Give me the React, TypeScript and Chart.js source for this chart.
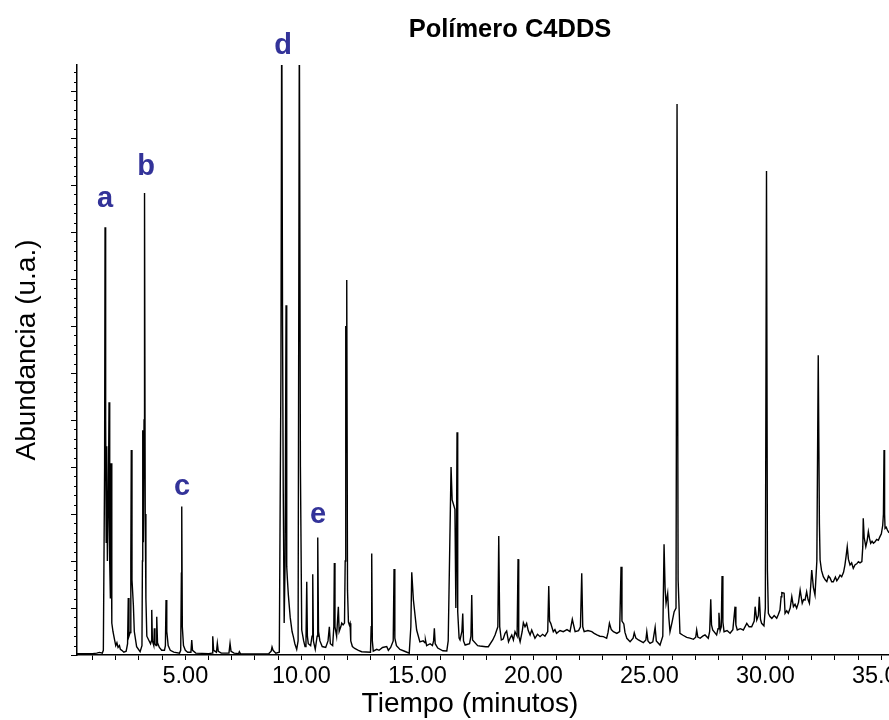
import React, { useEffect, useRef } from "react";
import { Chart, registerables } from "chart.js";

Chart.register(...registerables);

// ---- Data ----
const chartTitle = "Polímero C4DDS";
const xAxisTitle = "Tiempo (minutos)";
const yAxisTitle = "Abundancia (u.a.)";

// [retention time (min), abundance (a.u.)]
const signal: [number, number][] = [
  [0.33,0.15],[1.0,0.15],[1.18,0.2],[1.3,0.28],[1.42,0.2],[1.466,0.5],[1.52,20],[1.539,45.5],[1.565,25],[1.59,12],
  [1.612,22.2],[1.64,10],[1.68,16],[1.711,26.9],[1.74,9.8],[1.77,6],[1.797,20.4],[1.83,3.4],[1.88,2.5],[1.95,1.6],
  [2.0,1.0],[2.05,1.3],[2.1,0.8],[2.16,1.0],[2.2,0.6],[2.26,0.5],[2.35,0.3],[2.45,0.4],[2.51,1.2],[2.54,6.06],
  [2.57,2.0],[2.62,2.4],[2.65,10],[2.67,21.8],[2.7,8],[2.76,5.3],[2.8,2.5],[2.9,0.88],[3.05,0.35],[3.13,1.0],
  [3.15,10],[3.164,23.9],[3.19,12],[3.22,25],[3.241,49.15],[3.27,15],[3.3,6],[3.34,2.0],[3.42,1.6],[3.5,1.2],
  [3.535,1.5],[3.552,4.8],[3.58,1.5],[3.64,1.0],[3.664,2.84],[3.69,1.2],[3.74,1.0],[3.767,4.07],[3.8,1.3],[3.88,0.8],
  [3.98,0.5],[4.1,0.5],[4.14,1.0],[4.168,5.85],[4.2,2.5],[4.26,1.0],[4.35,0.5],[4.5,0.3],[4.75,0.2],[4.8,0.5],
  [4.83,8.7],[4.845,15.8],[4.87,3],[4.92,1.0],[5.0,0.5],[5.1,0.3],[5.24,0.3],[5.276,1.6],[5.31,0.5],[5.45,0.2],
  [6.0,0.15],[6.15,0.2],[6.181,2.0],[6.22,0.5],[6.34,0.3],[6.379,1.24],[6.42,0.4],[6.55,0.2],[6.88,0.2],[6.927,1.24],
  [6.97,0.4],[7.1,0.2],[7.3,0.15],[7.328,0.35],[7.37,0.15],[8.0,0.1],[8.6,0.15],[8.7,0.4],[8.737,0.85],[8.78,0.5],
  [8.9,0.2],[9.05,0.3],[9.12,30],[9.155,70],[9.19,35],[9.22,17.5],[9.26,3.4],[9.3,10],[9.341,37.2],[9.37,9.4],
  [9.4,8],[9.44,6.4],[9.52,4],[9.6,2.5],[9.655,1.95],[9.72,1.2],[9.8,0.6],[9.86,1.5],[9.914,68],[9.96,20],
  [10.017,2.66],[10.1,1.5],[10.159,0.9],[10.2,1.5],[10.233,7.8],[10.26,2],[10.3,1.2],[10.4,1.0],[10.46,2],[10.491,8.6],
  [10.52,1.5],[10.6,0.6],[10.68,2],[10.707,12.5],[10.74,2.5],[10.8,1.5],[10.9,0.9],[11.05,0.8],[11.15,1.5],[11.207,3.0],
  [11.25,1.2],[11.35,1.0],[11.4,3],[11.422,9.8],[11.45,3],[11.52,2],[11.595,5.14],[11.63,2.5],[11.7,3.0],[11.741,3.4],
  [11.8,3.2],[11.86,3.4],[11.89,10],[11.914,35],[11.935,25],[11.957,39.9],[11.99,6.9],[12.03,3.5],[12.069,3.19],[12.099,3.37],
  [12.13,1.5],[12.2,0.9],[12.3,0.7],[12.46,0.5],[12.6,0.35],[12.98,0.3],[13.01,3],[13.034,10.8],[13.06,1.5],[13.1,0.4],
  [13.25,0.6],[13.35,0.5],[13.5,0.8],[13.68,0.9],[13.75,0.5],[13.85,0.8],[13.96,1.5],[13.996,9.15],[14.03,1.8],[14.1,1.0],
  [14.25,0.6],[14.45,0.4],[14.65,0.2],[14.72,3],[14.759,8.8],[14.83,5.85],[14.97,2.66],[15.11,1.4],[15.25,1.5],[15.33,1.3],
  [15.35,1.6],[15.4,1.0],[15.55,1.2],[15.65,1.0],[15.7,1.5],[15.733,2.84],[15.77,1.2],[15.88,0.74],[16.1,0.45],[16.27,0.43],
  [16.33,1.5],[16.4,12],[16.453,20.0],[16.5,16.5],[16.55,16.1],[16.62,15.5],[16.66,5],[16.69,14],[16.711,23.7],[16.74,4.6],
  [16.8,1.8],[16.84,1.6],[16.92,2.5],[16.957,4.4],[16.99,1.5],[17.06,1.06],[17.25,1.2],[17.31,2],[17.345,6.38],[17.38,1.6],
  [17.6,1.0],[17.7,0.96],[17.95,0.88],[18.06,0.88],[18.25,1.6],[18.35,2.13],[18.47,3],[18.509,12.66],[18.55,3],[18.62,1.6],
  [18.7,1.7],[18.78,2.3],[18.85,2.55],[18.93,1.41],[19.0,1.8],[19.07,2.13],[19.14,1.6],[19.21,2.48],[19.3,2],[19.341,10.2],
  [19.37,2],[19.43,1.41],[19.52,2.5],[19.57,3.44],[19.64,3.01],[19.71,3.37],[19.78,2.6],[19.86,2.13],[19.93,2.66],[20.07,1.78],
  [20.18,2.2],[20.29,1.95],[20.4,2.2],[20.5,2.0],[20.62,2.5],[20.664,7.34],[20.7,3.6],[20.75,3.37],[20.86,2.48],[20.93,2.7],
  [21.0,2.31],[21.15,2.6],[21.29,2.48],[21.45,2.7],[21.58,2.48],[21.68,3.8],[21.8,2.48],[21.95,2.6],[22.03,3],[22.086,8.69],
  [22.13,3.0],[22.19,2.48],[22.35,2.6],[22.52,2.48],[22.62,2.3],[22.74,2.13],[22.87,2.0],[23.02,1.95],[23.16,1.78],[23.22,2.4],
  [23.28,3.37],[23.36,2.7],[23.45,2.48],[23.6,2.3],[23.72,2.5],[23.78,9.39],[23.82,3.6],[23.9,3.3],[23.95,2.4],[24.03,1.78],
  [24.17,1.41],[24.3,1.8],[24.35,2.37],[24.42,1.8],[24.53,1.6],[24.74,1.31],[24.85,1.6],[24.89,2.48],[24.94,1.5],[25.03,1.24],
  [25.15,1.4],[25.25,2.95],[25.3,1.5],[25.46,1.06],[25.58,2],[25.634,11.78],[25.68,7],[25.72,5.5],[25.79,6.56],[25.84,4.0],
  [25.89,2.48],[25.98,3.5],[26.07,4.61],[26.15,5],[26.194,58.62],[26.24,8],[26.32,2.31],[26.45,2.1],[26.61,1.88],[26.75,1.8],
  [26.9,1.67],[27.0,1.9],[27.04,2.66],[27.09,1.9],[27.19,1.78],[27.3,2.0],[27.4,2.13],[27.54,1.78],[27.6,2.5],[27.647,5.93],
  [27.68,3.2],[27.73,2.66],[27.9,2.13],[27.96,2.8],[28.0,4.5],[28.05,2.6],[28.1,3],[28.134,8.4],[28.17,3.5],[28.22,2.48],
  [28.35,2.6],[28.48,2.31],[28.6,2.7],[28.694,5.14],[28.73,3.2],[28.79,2.66],[28.92,2.8],[29.05,2.66],[29.2,3.37],[29.3,3.0],
  [29.41,3.01],[29.52,3.6],[29.56,5.14],[29.63,3.72],[29.7,4.2],[29.74,6.2],[29.79,3.8],[29.84,3.37],[29.94,3.1],[30.0,5],
  [30.05,51.5],[30.09,9],[30.13,4.44],[30.2,4.1],[30.28,3.9],[30.38,4.2],[30.49,3.9],[30.56,4.3],[30.63,4.79],[30.68,6.2],
  [30.71,6.63],[30.77,6.6],[30.81,6.56],[30.85,4.44],[30.92,4.7],[30.99,4.44],[31.07,5.0],[31.14,6.2],[31.21,5.14],[31.28,5.4],
  [31.35,4.97],[31.43,5.6],[31.5,6.91],[31.59,5.5],[31.65,5.9],[31.71,5.85],[31.78,6.73],[31.84,5.9],[31.9,5.5],[31.96,7.5],
  [32.0,9.04],[32.07,7.2],[32.14,6.38],[32.22,10],[32.28,31.88],[32.33,14],[32.36,10.1],[32.42,9.0],[32.5,8.33],[32.58,8.0],
  [32.65,7.8],[32.72,8.4],[32.79,8.2],[32.86,7.8],[32.93,7.8],[33.02,8.3],[33.08,7.9],[33.15,8.16],[33.22,8.5],[33.29,8.33],
  [33.37,8.8],[33.43,9.57],[33.48,10.5],[33.53,11.52],[33.58,10.2],[33.65,9.57],[33.72,9.8],[33.79,9.22],[33.87,9.6],[33.94,9.7],
  [34.01,9.93],[34.08,9.8],[34.16,9.93],[34.2,11.5],[34.22,14.54],[34.26,12.5],[34.33,11.52],[34.39,12.2],[34.44,13.12],[34.49,12.4],
  [34.54,11.88],[34.6,12.1],[34.66,11.9],[34.73,12.05],[34.8,12.3],[34.87,12.2],[34.94,12.59],[35.0,12.9],[35.06,13.8],[35.09,15],
  [35.116,21.8],[35.14,15],[35.16,13.48],[35.21,13.6],[35.26,13.3],[35.33,13.0],[35.45,13.4],
];

// Peak annotations
const peakLabels = ["a", "b", "c", "d", "e"];
const peakLabelTimes = [1.54, 3.31, 4.86, 9.21, 10.72];
const peakLabelLevels = [47.66, 51.06, 17.02, 63.94, 14.04];

// Axis ticks / ranges
const timeTicks = [1,2,3,4,5,6,7,8,9,10,11,12,13,14,15,16,17,18,19,20,21,22,23,24,25,26,27,28,29,30,31,32,33,34,35];
const labelledTimes = [5, 10, 15, 20, 25, 30, 35];
const timeMin = 0.33;
const timeMax = 35.33;
const abundanceMax = 62.77;

const FONT = '"Liberation Sans", Arial, Helvetica, sans-serif';

const overlayPlugin = {
  id: "overlay",
  afterDraw(chart: any) {
    const { ctx, chartArea, scales } = chart;
    const x = scales.x;
    const y = scales.y;
    ctx.save();
    // y-axis minor / major tick marks
    ctx.strokeStyle = "#000";
    ctx.lineWidth = 1;
    y.ticks.forEach((t: any) => {
      const py = Math.round(y.getPixelForValue(t.value)) + 0.5;
      const len = Math.round(t.value) % 5 === 0 ? 6 : 3;
      ctx.beginPath();
      ctx.moveTo(chartArea.left - len, py);
      ctx.lineTo(chartArea.left, py);
      ctx.stroke();
    });

    // Title
    ctx.fillStyle = "#000";
    ctx.textAlign = "center";
    ctx.textBaseline = "alphabetic";
    ctx.font = `bold 25.5px ${FONT}`;
    ctx.fillText(chartTitle, 510, 37);

    // X axis title
    ctx.font = `28px ${FONT}`;
    ctx.fillText(xAxisTitle, 470, 712);

    // Y axis title
    ctx.save();
    ctx.translate(35, 350);
    ctx.rotate(-Math.PI / 2);
    ctx.fillText(yAxisTitle, 0, 0);
    ctx.restore();

    // Peak letters
    ctx.fillStyle = "#333399";
    ctx.font = `bold 29px ${FONT}`;
    peakLabels.forEach((lab, i) => {
      ctx.fillText(lab, x.getPixelForValue(peakLabelTimes[i]), y.getPixelForValue(peakLabelLevels[i]));
    });
    ctx.restore();
  },
};

export default function App() {
  const canvasRef = useRef<HTMLCanvasElement | null>(null);

  useEffect(() => {
    const canvas = canvasRef.current;
    if (!canvas) return;
    const chart = new Chart(canvas, {
      type: "line",
      data: {
        datasets: [
          {
            data: signal.map(([t, v]) => ({ x: t, y: v })),
            borderColor: "#000",
            borderWidth: 1.4,
            pointRadius: 0,
            tension: 0,
            fill: false,
          },
        ],
      },
      options: {
        animation: false,
        responsive: false,
        maintainAspectRatio: false,
        layout: { padding: { top: 65, right: 0, left: 0, bottom: 0 } },
        plugins: {
          legend: { display: false },
          title: { display: false },
          tooltip: { enabled: false },
        },
        scales: {
          x: {
            type: "linear",
            min: timeMin,
            max: timeMax,
            afterBuildTicks: (s: any) => {
              s.ticks = timeTicks.map((v) => ({ value: v }));
            },
            ticks: {
              autoSkip: false,
              maxRotation: 0,
              minRotation: 0,
              padding: 2,
              color: "#000",
              font: { family: FONT, size: 23.5 },
              callback: (v: any) => (labelledTimes.includes(Math.round(Number(v))) ? Number(v).toFixed(2) : ""),
            },
            grid: {
              drawOnChartArea: false,
              drawTicks: true,
              tickLength: 5,
              color: "#000",
              lineWidth: 1,
            },
            border: { display: true, color: "#000", width: 1.5 },
            afterFit: (s: any) => {
              s.height = 65;
              s.paddingLeft = 0;
              s.paddingRight = 0;
            },
          },
          y: {
            type: "linear",
            min: 0,
            max: abundanceMax,
            ticks: { display: false, stepSize: 1, includeBounds: false },
            grid: { display: false },
            border: { display: true, color: "#000", width: 1.5 },
            afterFit: (s: any) => {
              s.width = 77;
              s.paddingTop = 0;
              s.paddingBottom = 0;
            },
          },
        },
      },
      plugins: [overlayPlugin],
    });
    return () => chart.destroy();
  }, []);

  return (
    <div
      style={{
        position: "fixed",
        left: 0,
        top: 0,
        width: 889,
        height: 720,
        overflow: "hidden",
        background: "#fff",
      }}
    >
      <canvas ref={canvasRef} width={889} height={720} style={{ display: "block" }} />
    </div>
  );
}
